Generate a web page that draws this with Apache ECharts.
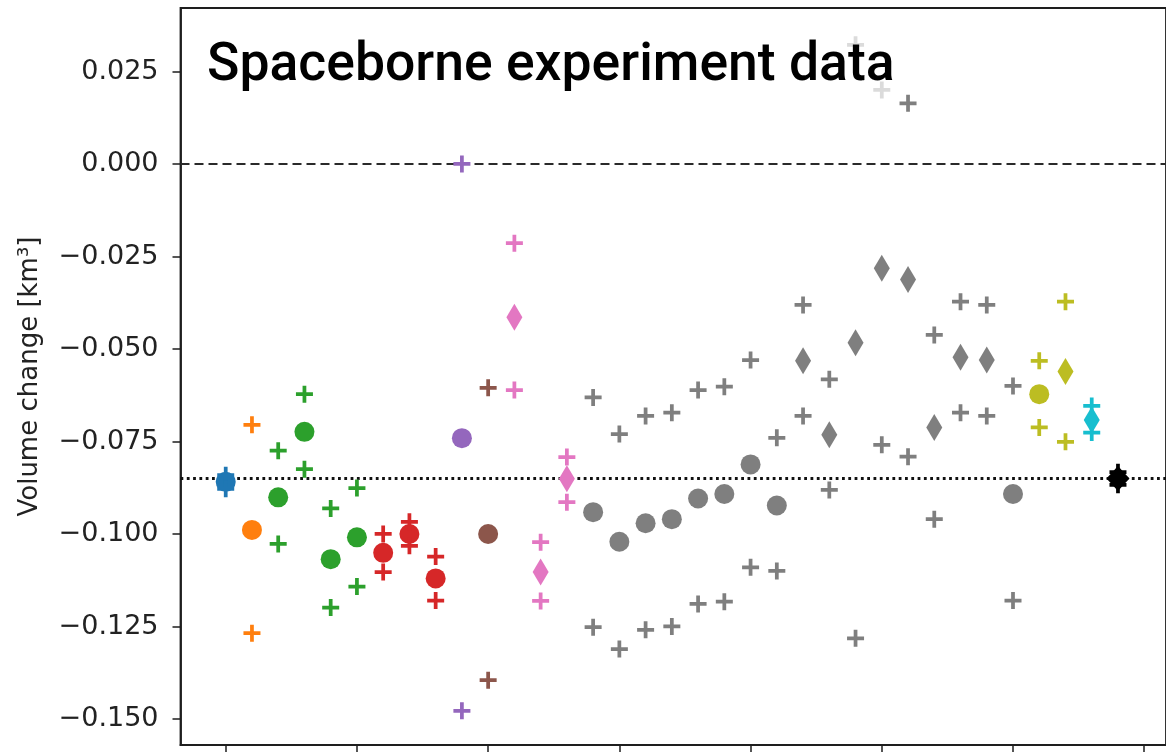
<!DOCTYPE html>
<html>
<head>
<meta charset="utf-8">
<script src="https://cdn.jsdelivr.net/npm/echarts@6/dist/echarts.min.js"></script>
<style>
  html, body { margin: 0; padding: 0; background: #ffffff; }
  #chart { width: 1166px; height: 752px; }
</style>
</head>
<body>
<div id="chart"></div>
<script>
// ---------------- DATA ----------------
const titleText = 'Spaceborne experiment data';
const yAxisTitle = 'Volume change [km³]';
const xPositions = [0,1,2,3,4,5,6,7,8,9,10,11,12,13,14,15,16,17,18,19,20,21,22,23,24,25,26,27,28,29,30,31,32,33,34];
const pointGroup = [0,1,2,2,2,2,3,3,3,4,5,6,6,6,7,7,7,7,7,7,7,7,7,7,7,7,7,7,7,7,7,8,8,9,10];
const pointType = ['o','o','o','o','o','o','o','o','o','o','o','d','d','d','o','o','o','o','o','o','o','o','d','d','d','d','d','d','d','d','o','o','d','d','d'];
const centralValues = [-0.0859,-0.0989,-0.0901,-0.0724,-0.1068,-0.1009,-0.1051,-0.1000,-0.1120,-0.0741,-0.1000,-0.0414,-0.1103,-0.0851,-0.0941,-0.1021,-0.0971,-0.0960,-0.0904,-0.0892,-0.0812,-0.0923,-0.0532,-0.0732,-0.0483,-0.0282,-0.0312,-0.0712,-0.0522,-0.0530,-0.0892,-0.0622,-0.0561,-0.0692,-0.0850];
const upperValues = [-0.0841,-0.0705,-0.0775,-0.0622,-0.0931,-0.0876,-0.1000,-0.0967,-0.1061,0.0000,-0.0605,-0.0214,-0.1022,-0.0792,-0.0631,-0.0730,-0.0681,-0.0672,-0.0611,-0.0602,-0.0530,-0.0740,-0.0381,-0.0582,0.0322,0.0200,0.0164,-0.0462,-0.0372,-0.0381,-0.0600,-0.0532,-0.0372,-0.0654,-0.0833];
const lowerValues = [-0.0878,-0.1268,-0.1027,-0.0825,-0.1199,-0.1142,-0.1103,-0.1032,-0.1180,-0.1478,-0.1395,-0.0611,-0.1181,-0.0914,-0.1252,-0.1311,-0.1259,-0.1250,-0.1189,-0.1183,-0.1090,-0.1100,-0.0681,-0.0881,-0.1282,-0.0759,-0.0791,-0.0960,-0.0672,-0.0681,-0.1180,-0.0712,-0.0751,-0.0726,-0.0867];
const zeroLevel = 0;
const meanLevel = -0.085;
const yTickValues = [-0.15,-0.125,-0.1,-0.075,-0.05,-0.025,0,0.025];
const xTickValues = [0,5,10,15,20,25,30,35];

// ---------------- STYLE / LAYOUT ----------------
const xMin = -1.723, xMax = 35.83;
const yMin = -0.15703, yMax = 0.04216;
const groupColors = ['#1f77b4','#ff7f0e','#2ca02c','#d62728','#9467bd','#8c564b','#e377c2','#7f7f7f','#bcbd22','#17becf','#000000'];
const plusPath = 'path://M39,0H61V39H100V61H61V100H39V61H0V39H39Z';

const crossData = [];
const circleData = [];
const diamondData = [];
xPositions.forEach(function (x, i) {
  const g = pointGroup[i];
  const color = groupColors[g];
  crossData.push({ value: [x, upperValues[i]], itemStyle: { color: color, opacity: 1 } });
  crossData.push({ value: [x, lowerValues[i]], itemStyle: { color: color, opacity: 1 } });
  const item = { value: [x, centralValues[i]], itemStyle: { color: color, opacity: 1 } };
  if (pointType[i] === 'o') {
    circleData.push(item);
  } else {
    if (g === 10) item.symbolSize = [23, 25];
    diamondData.push(item);
  }
});

const chart = echarts.init(document.getElementById('chart'), null, { renderer: 'canvas' });
const fmt = function (v) {
  const r = Math.round(v * 1000) / 1000;
  return (r < 0 ? '\u2212' : '') + Math.abs(r).toFixed(3);
};

chart.setOption({
  animation: false,
  backgroundColor: '#ffffff',
  grid: { left: 180.5, top: 8, right: -2, bottom: 7, show: true, borderColor: '#1e1e1e', borderWidth: 1.8, containLabel: false },
  xAxis: {
    type: 'value', min: xMin, max: xMax,
    axisLine: { show: true, onZero: false, lineStyle: { color: '#1e1e1e', width: 1.8 } },
    axisTick: { show: true, inside: false, length: 8, customValues: xTickValues, lineStyle: { color: '#1e1e1e', width: 1.5 } },
    axisLabel: { show: false },
    splitLine: { show: false }
  },
  yAxis: {
    type: 'value', min: yMin, max: yMax,
    name: yAxisTitle, nameLocation: 'middle', nameGap: 137, nameRotate: 90,
    nameTextStyle: { fontFamily: 'DejaVu Sans', fontSize: 26, color: '#222' },
    axisLine: { show: true, onZero: false, lineStyle: { color: '#1e1e1e', width: 1.8 } },
    axisTick: { show: true, inside: false, length: 8, customValues: yTickValues, lineStyle: { color: '#1e1e1e', width: 1.5 } },
    axisLabel: { show: true, customValues: yTickValues, margin: 22, formatter: fmt, fontFamily: 'DejaVu Sans', fontSize: 27, color: '#222', padding: [4, 0, 0, 0] },
    splitLine: { show: false }
  },
  series: [
    {
      type: 'line', data: [[xMin, zeroLevel], [xMax, zeroLevel]], z: 1, silent: true, showSymbol: false, symbol: 'none',
      lineStyle: { type: [9, 5], width: 2, color: '#2a2a2a' }
    },
    {
      type: 'line', data: [[xMin, meanLevel], [xMax, meanLevel]], z: 1, silent: true, showSymbol: false, symbol: 'none',
      lineStyle: { type: [2.8, 3.5], width: 2.8, color: '#111' }
    },
    { type: 'scatter', data: circleData, symbol: 'circle', symbolSize: 20, z: 3, itemStyle: { opacity: 1 } },
    { type: 'scatter', data: diamondData, symbol: 'diamond', symbolSize: [16, 27], z: 3, itemStyle: { opacity: 1 } },
    { type: 'scatter', data: crossData, symbol: plusPath, symbolSize: 17, z: 4, itemStyle: { opacity: 1 } }
  ],
  graphic: [
    { type: 'rect', z: 20, silent: true, shape: { x: 195, y: 18, width: 703, height: 82 }, style: { fill: 'rgba(255,255,255,0.72)' } },
    { type: 'text', z: 21, silent: true, x: 207, y: 67, style: { text: titleText, fontFamily: 'Roboto', fontWeight: 500, fontSize: 53.5, fill: '#000', verticalAlign: 'middle', align: 'left' } }
  ]
});
</script>
</body>
</html>
